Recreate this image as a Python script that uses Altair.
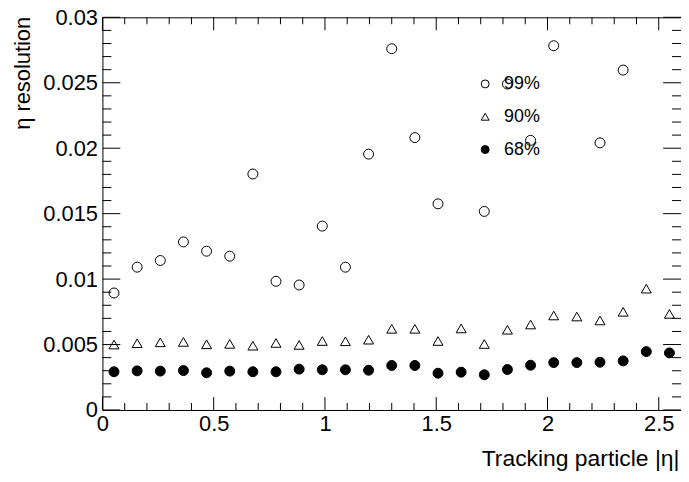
import altair as alt
import pandas as pd

# bin centres in |eta|
eta = [0.052, 0.156, 0.260, 0.364, 0.468, 0.572, 0.676, 0.780, 0.884, 0.988,
       1.092, 1.196, 1.300, 1.404, 1.508, 1.612, 1.716, 1.820, 1.924, 2.028,
       2.132, 2.236, 2.340, 2.444, 2.548]

res99 = [0.00894, 0.01091, 0.01142, 0.01284, 0.01213, 0.01175, 0.01803, 0.00983,
         0.00955, 0.01405, 0.01091, 0.01955, 0.02760, 0.02081, 0.01575, None,
         0.01517, 0.02490, 0.02060, 0.02783, None, 0.02041, 0.02597, None, None]
res90 = [0.00500, 0.00510, 0.00517, 0.00520, 0.00502, 0.00505, 0.00491, 0.00512,
         0.00497, 0.00527, 0.00525, 0.00537, 0.00620, 0.00620, 0.00527, 0.00623,
         0.00504, 0.00613, 0.00653, 0.00722, 0.00714, 0.00684, 0.00750, 0.00927,
         0.00734]
res68 = [0.00292, 0.00299, 0.00297, 0.00301, 0.00284, 0.00297, 0.00292, 0.00292,
         0.00312, 0.00307, 0.00307, 0.00304, 0.00340, 0.00340, 0.00281, 0.00289,
         0.00269, 0.00309, 0.00342, 0.00362, 0.00362, 0.00365, 0.00375, 0.00446,
         0.00436]

series = ["99%", "90%", "68%"]

x_major = [0, 0.5, 1, 1.5, 2, 2.5]
x_minor = [0.1, 0.2, 0.3, 0.4, 0.6, 0.7, 0.8, 0.9, 1.1, 1.2, 1.3, 1.4,
           1.6, 1.7, 1.8, 1.9, 2.1, 2.2, 2.3, 2.4]
y_major = [0, 0.005, 0.01, 0.015, 0.02, 0.025, 0.03]
y_minor = [0.001, 0.002, 0.003, 0.004, 0.006, 0.007, 0.008, 0.009,
           0.011, 0.012, 0.013, 0.014, 0.016, 0.017, 0.018, 0.019,
           0.021, 0.022, 0.023, 0.024, 0.026, 0.027, 0.028, 0.029]

rows = []
for name, vals in zip(series, [res99, res90, res68]):
    for e, v in zip(eta, vals):
        if v is not None:
            rows.append({"eta": e, "res": v, "series": name})
df = pd.DataFrame(rows)

W, H = 582, 395
FONT = "Liberation Sans"

xscale = alt.Scale(domain=[0, 2.6], nice=False, zero=False)
yscale = alt.Scale(domain=[0, 0.03], nice=False, zero=False)
xaxis = alt.Axis(values=x_major, format="~g", grid=False, ticks=False, domain=False,
                 labelFlush=False, labelFontSize=22, labelPadding=4, labelFont=FONT,
                 labelColor="black", title="Tracking particle |η|", titleFont=FONT,
                 titleFontSize=23, titleFontWeight="normal", titleColor="black",
                 titleX=W - 2, titleY=56, titleAlign="right", titleBaseline="alphabetic")
yaxis = alt.Axis(values=y_major, format="~g", grid=False, ticks=False, domain=False,
                 labelFlush=False, labelFontSize=22, labelPadding=5, labelFont=FONT,
                 labelColor="black", title="η resolution", titleFont=FONT,
                 titleFontSize=22, titleFontWeight="normal", titleColor="black",
                 titleAngle=-90, titleX=-73, titleY=-1, titleAlign="right",
                 titleBaseline="alphabetic")

def X():
    return alt.X("eta:Q", scale=xscale, axis=xaxis)

def Y():
    return alt.Y("res:Q", scale=yscale, axis=yaxis)

legend = alt.Legend(title=None, orient="none", legendX=376, legendY=58,
                    labelFont=FONT, labelFontSize=18, labelColor="black",
                    symbolSize=64, rowPadding=15, labelOffset=10, padding=0,
                    symbolStrokeWidth=1)

points = alt.Chart(df).mark_point(strokeWidth=1, opacity=1, size=100).encode(
    x=X(), y=Y(),
    shape=alt.Shape("series:N",
                    scale=alt.Scale(domain=series, range=["circle", "triangle-up", "circle"]),
                    legend=legend),
    fill=alt.Fill("series:N",
                  scale=alt.Scale(domain=series, range=["transparent", "transparent", "black"]),
                  legend=legend),
    stroke=alt.Stroke("series:N",
                      scale=alt.Scale(domain=series, range=["black", "black", "black"]),
                      legend=legend),
)

xmaj = pd.DataFrame({"eta": x_major})
xmin = pd.DataFrame({"eta": x_minor})
ymaj = pd.DataFrame({"res": y_major})
ymin = pd.DataFrame({"res": y_minor})

def xticks(d, y1, y2):
    return alt.Chart(d).mark_rule(color="black", strokeWidth=1).encode(
        x=X(), y=alt.value(y1), y2=alt.value(y2))

def yticks(d, x1, x2):
    return alt.Chart(d).mark_rule(color="black", strokeWidth=1).encode(
        y=Y(), x=alt.value(x1), x2=alt.value(x2))

layers = [
    xticks(xmaj, H, H - 13), xticks(xmin, H, H - 7),
    xticks(xmaj, 0, 13), xticks(xmin, 0, 7),
    yticks(ymaj, 0, 18), yticks(ymin, 0, 9),
    yticks(ymaj, W, W - 18), yticks(ymin, W, W - 9),
    points,
]

chart = alt.layer(*layers).properties(
    width=W, height=H,
    autosize=alt.AutoSizeParams(type="none"),
    padding={"left": 95, "top": 8, "right": 0, "bottom": 60},
    background="white",
).configure_view(stroke="black", strokeWidth=1)

chart.save("out.html", embed_options={"renderer": "svg", "actions": False})
